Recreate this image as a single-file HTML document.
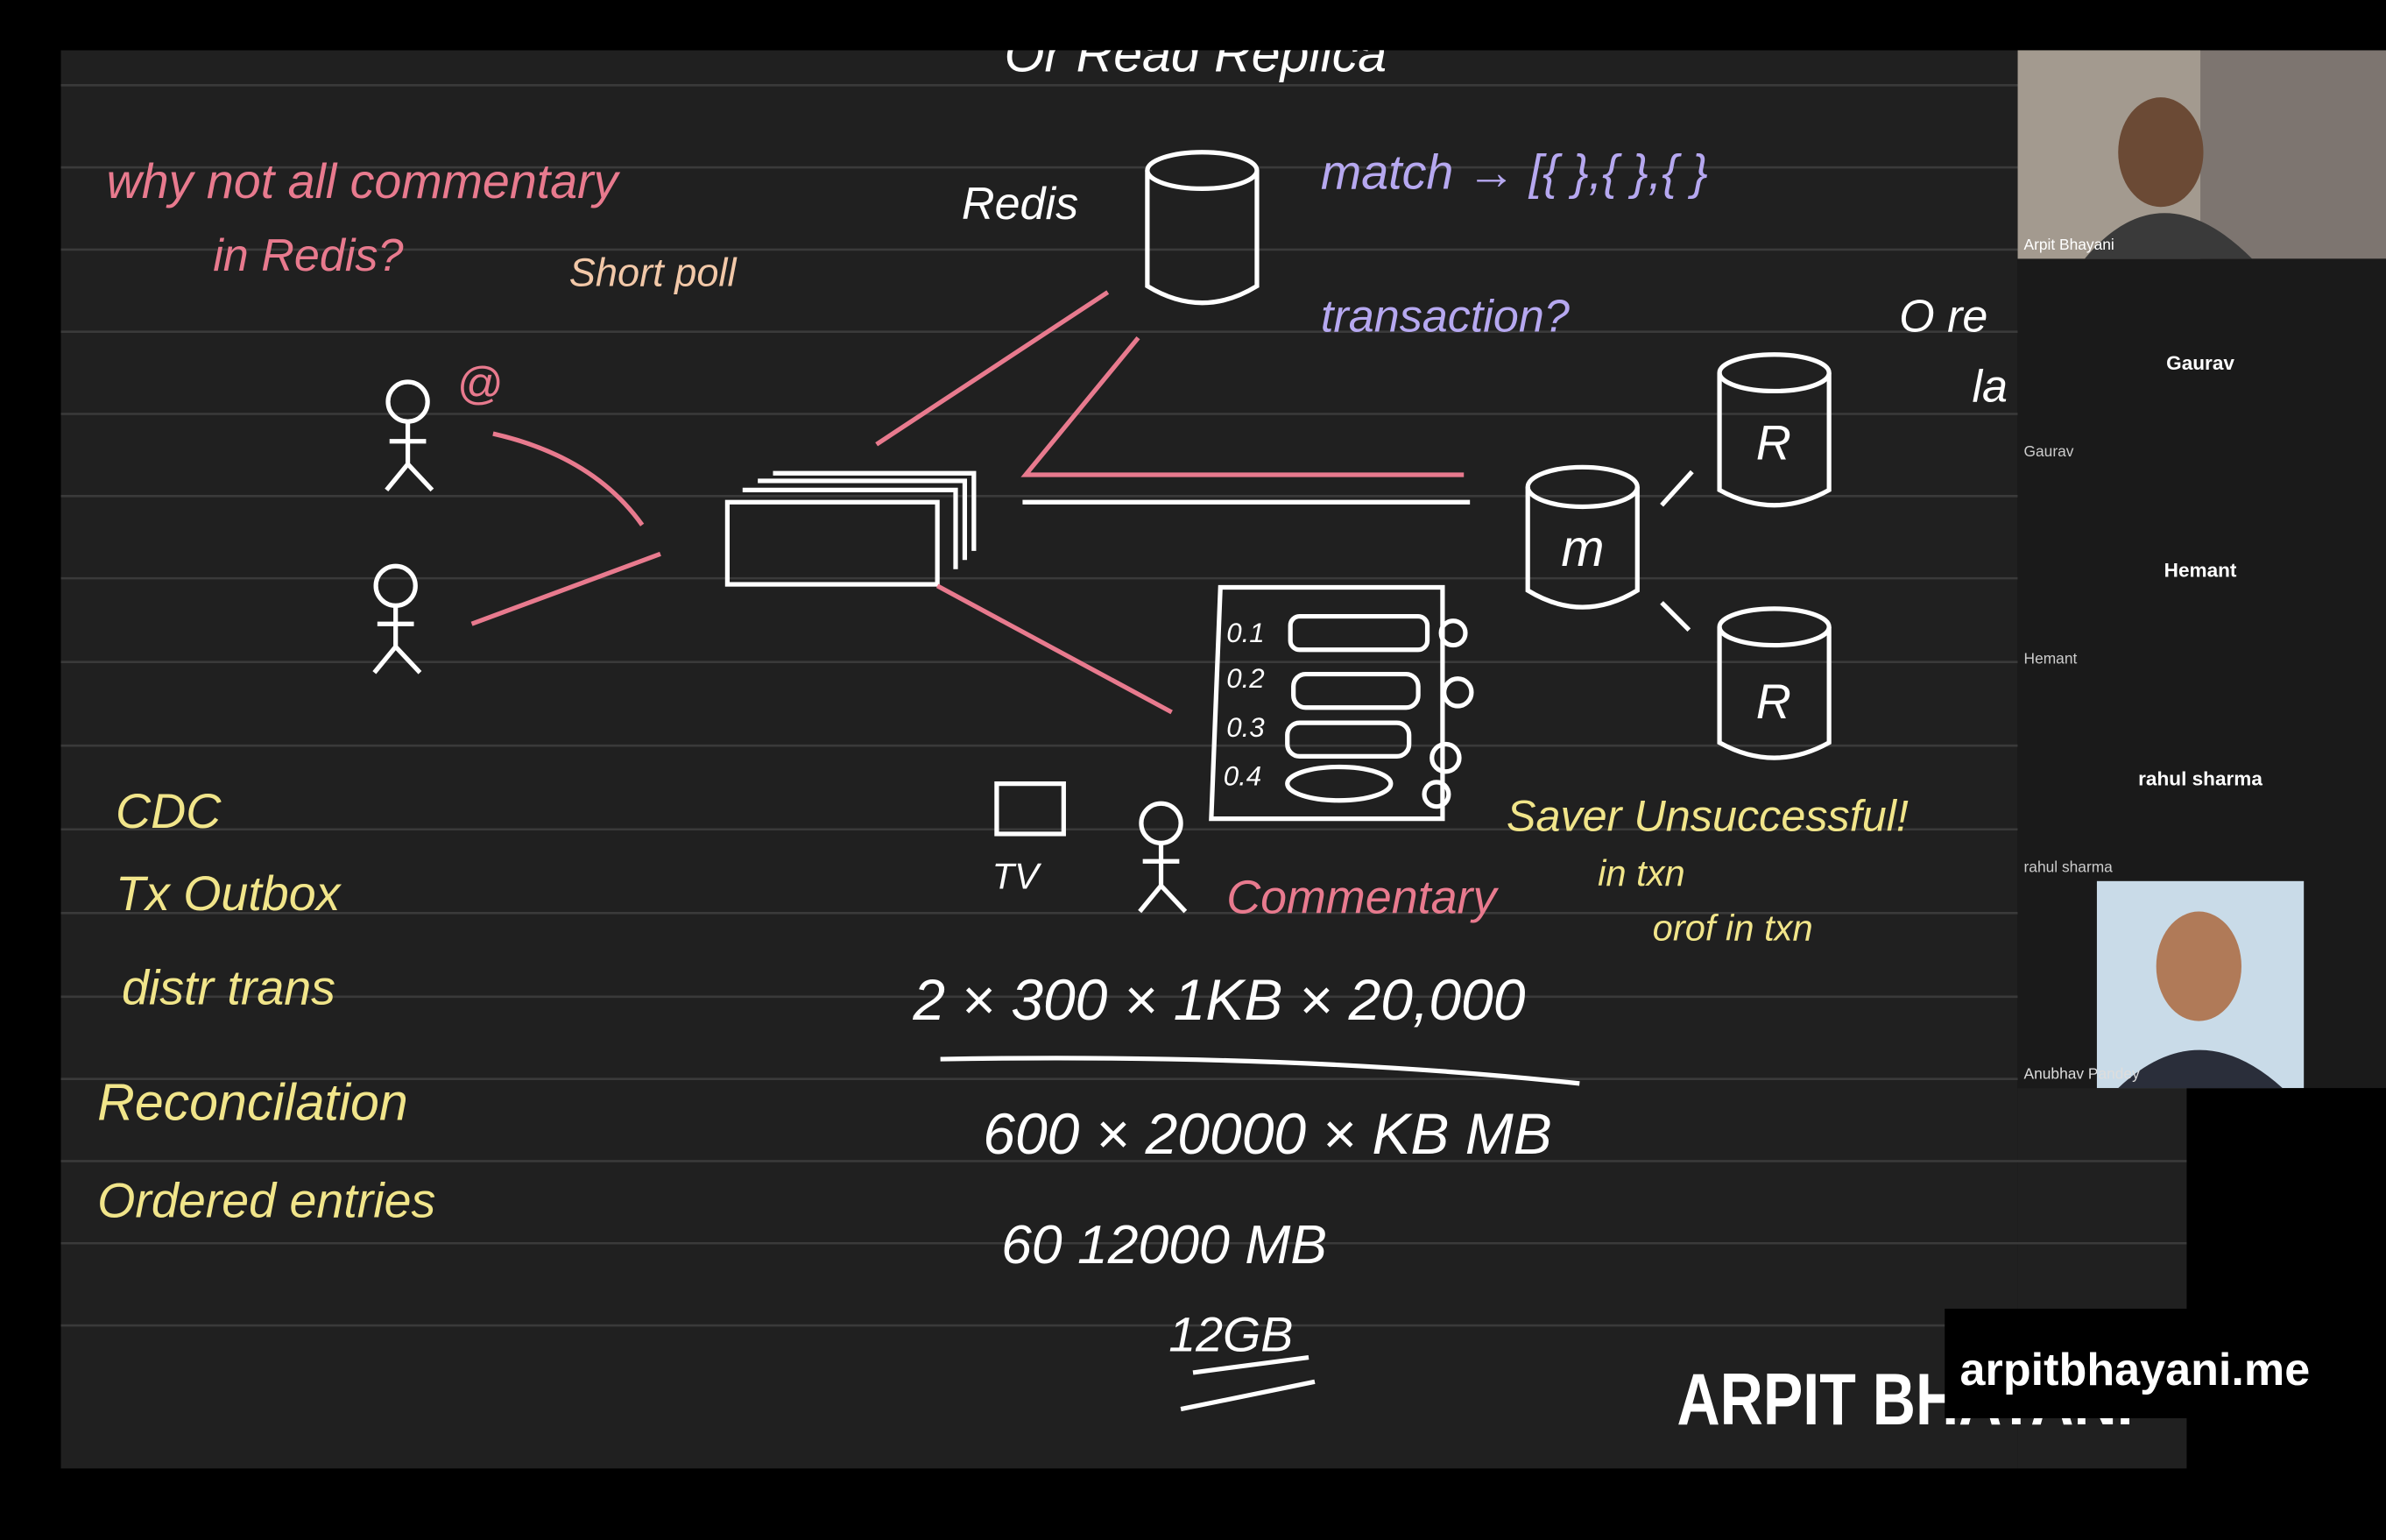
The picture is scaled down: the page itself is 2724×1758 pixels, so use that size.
<!DOCTYPE html>
<html><head><meta charset="utf-8"><style>
html,body{margin:0;padding:0;background:#000;}
svg{display:block}
text{font-family:"Liberation Sans",sans-serif;}
.h{font-family:"Liberation Sans",sans-serif;font-style:italic;}
</style></head><body>
<svg width="2724" height="1758" viewBox="0 0 1568 1012" preserveAspectRatio="none" xmlns="http://www.w3.org/2000/svg">
<rect width="1568" height="1012" fill="#000"/>
<rect x="40" y="33" width="1286" height="932" fill="#202020"/>
<rect x="1326" y="715" width="111" height="250" fill="#202020"/>
<g stroke="#3a3a3a" stroke-width="1.5">
<line x1="40" y1="56" x2="1326" y2="56"/><line x1="40" y1="110" x2="1326" y2="110"/>
<line x1="40" y1="164" x2="1326" y2="164"/><line x1="40" y1="218" x2="1326" y2="218"/>
<line x1="40" y1="272" x2="1326" y2="272"/><line x1="40" y1="326" x2="1326" y2="326"/>
<line x1="40" y1="380" x2="1326" y2="380"/><line x1="40" y1="435" x2="1326" y2="435"/>
<line x1="40" y1="490" x2="1326" y2="490"/><line x1="40" y1="545" x2="1326" y2="545"/>
<line x1="40" y1="600" x2="1326" y2="600"/><line x1="40" y1="655" x2="1326" y2="655"/>
<line x1="40" y1="709" x2="1437" y2="709"/><line x1="40" y1="763" x2="1437" y2="763"/>
<line x1="40" y1="817" x2="1437" y2="817"/><line x1="40" y1="871" x2="1437" y2="871"/>
</g>
<rect x="1326" y="33" width="242" height="682" fill="#1a1a1a"/>
<rect x="1326" y="33" width="242" height="137" fill="#7d7570"/>
<rect x="1326" y="33" width="120" height="137" fill="#a39a8f"/>
<ellipse cx="1420" cy="100" rx="28" ry="36" fill="#6b4a35"/>
<path d="M1370 170 Q1420 110 1480 170Z" fill="#3a3a3a"/>
<text x="1330" y="164" font-size="10" fill="#fff">Arpit Bhayani</text>
<text x="1446" y="243" font-size="13" fill="#fff" font-weight="bold" text-anchor="middle">Gaurav</text>
<text x="1330" y="300" font-size="10" fill="#ccc">Gaurav</text>
<text x="1446" y="379" font-size="13" fill="#fff" font-weight="bold" text-anchor="middle">Hemant</text>
<text x="1330" y="436" font-size="10" fill="#ccc">Hemant</text>
<text x="1446" y="516" font-size="13" fill="#fff" font-weight="bold" text-anchor="middle">rahul sharma</text>
<text x="1330" y="573" font-size="10" fill="#ccc">rahul sharma</text>
<rect x="1378" y="579" width="136" height="136" fill="#c9dbe8"/>
<ellipse cx="1445" cy="635" rx="28" ry="36" fill="#b07a58"/>
<path d="M1392 715 Q1445 665 1500 715Z" fill="#2a2e3a"/>
<text x="1330" y="709" font-size="10" fill="#ddd">Anubhav Pandey</text>
<text x="660" y="47" class="h" font-size="34" fill="#fff">Or Read Replica</text>
<rect x="0" y="0" width="1568" height="33" fill="#000"/>
<g class="h" fill="#e87a8e">
<text x="70" y="130" font-size="32">why not all commentary</text>
<text x="140" y="178" font-size="30">in Redis?</text>
<text x="300" y="262" font-size="30">@</text>
<text x="806" y="600" font-size="31">Commentary</text>
</g>
<text x="374" y="188" class="h" font-size="26" fill="#f2c8a8">Short poll</text>
<text x="632" y="144" class="h" font-size="30" fill="#fff">Redis</text>
<g class="h" fill="#b6a8f0">
<text x="868" y="124" font-size="32">match → [{  },{  },{  }</text>
<text x="868" y="218" font-size="30">transaction?</text>
</g>
<text x="1248" y="218" class="h" font-size="30" fill="#fff">O re</text>
<text x="1296" y="264" class="h" font-size="30" fill="#fff">la</text>
<g fill="none" stroke="#fff" stroke-width="3">
<path d="M754 112 V188 Q790 210 826 188 V112"/><ellipse cx="790" cy="112" rx="36" ry="12" fill="#202020"/>
<path d="M1004 320 V388 Q1040 410 1076 388 V320"/><ellipse cx="1040" cy="320" rx="36" ry="13"/>
<path d="M1130 245 V322 Q1166 342 1202 322 V245"/><ellipse cx="1166" cy="245" rx="36" ry="12"/>
<path d="M1130 412 V488 Q1166 508 1202 488 V412"/><ellipse cx="1166" cy="412" rx="36" ry="12"/>
<line x1="1092" y1="332" x2="1112" y2="310"/><line x1="1092" y1="396" x2="1110" y2="414"/>
<rect x="478" y="330" width="138" height="54" stroke-width="3"/>
<path d="M488 322 H628 V374 M498 316 H634 V368 M508 311 H640 V362"/>
<circle cx="268" cy="264" r="13"/><path d="M268 277 V305 M256 290 H280 M268 305 L254 322 M268 305 L284 322"/>
<circle cx="260" cy="385" r="13"/><path d="M260 398 V425 M248 410 H272 M260 425 L246 442 M260 425 L276 442"/>
<circle cx="763" cy="541" r="13"/><path d="M763 554 V582 M751 566 H775 M763 582 L749 599 M763 582 L779 599"/>
<rect x="655" y="515" width="44" height="33"/>
<line x1="672" y1="330" x2="966" y2="330"/>
<path d="M802 386 H948 V538 H796 Z"/>
<rect x="848" y="405" width="90" height="22" rx="6"/><rect x="850" y="443" width="82" height="22" rx="8"/>
<rect x="846" y="475" width="80" height="22" rx="8"/><ellipse cx="880" cy="515" rx="34" ry="11"/>
<circle cx="955" cy="416" r="8"/><circle cx="958" cy="455" r="9"/><circle cx="950" cy="498" r="9"/><circle cx="944" cy="522" r="8"/>
</g>
<g class="h" fill="#fff" font-size="18"><text x="806" y="422">0.1</text><text x="806" y="452">0.2</text><text x="806" y="484">0.3</text><text x="804" y="516">0.4</text></g>
<text x="1026" y="372" class="h" font-size="34" fill="#fff">m</text>
<text x="1154" y="302" class="h" font-size="32" fill="#fff">R</text>
<text x="1154" y="472" class="h" font-size="32" fill="#fff">R</text>
<text x="652" y="584" class="h" font-size="24" fill="#fff">TV</text>
<g stroke="#e87a8e" stroke-width="3" fill="none">
<path d="M324 285 Q390 300 422 345"/><line x1="310" y1="410" x2="434" y2="364"/>
<line x1="576" y1="292" x2="728" y2="192"/><path d="M748 222 L674 312 H962"/>
<line x1="616" y1="385" x2="770" y2="468"/>
</g>
<g class="h" fill="#f1e58a">
<text x="76" y="544" font-size="32">CDC</text>
<text x="76" y="598" font-size="32">Tx Outbox</text>
<text x="80" y="660" font-size="32">distr trans</text>
<text x="64" y="736" font-size="34">Reconcilation</text>
<text x="64" y="800" font-size="32">Ordered entries</text>
<text x="990" y="546" font-size="29">Saver Unsuccessful!</text>
<text x="1050" y="582" font-size="24">in txn</text>
<text x="1086" y="618" font-size="24">orof in txn</text>
</g>
<g class="h" fill="#fff">
<text x="600" y="670" font-size="38">2 × 300 × 1KB × 20,000</text>
<text x="646" y="758" font-size="38">600 × 20000 × KB MB</text>
<text x="658" y="830" font-size="36">60  12000 MB</text>
<text x="768" y="888" font-size="32">12GB</text>
</g>
<g stroke="#fff" stroke-width="3" fill="none">
<path d="M618 696 Q850 692 1038 712"/><path d="M784 902 L860 892 M776 926 L864 908"/>
</g>
<text x="1102" y="936" font-size="48" font-weight="bold" fill="#fff" textLength="300" lengthAdjust="spacingAndGlyphs">ARPIT BHAYANI</text>
<rect x="1278" y="860" width="258" height="72" fill="#000"/>
<text x="1288" y="910" font-size="30" font-weight="bold" fill="#fff">arpitbhayani.me</text>
</svg>
</body></html>
